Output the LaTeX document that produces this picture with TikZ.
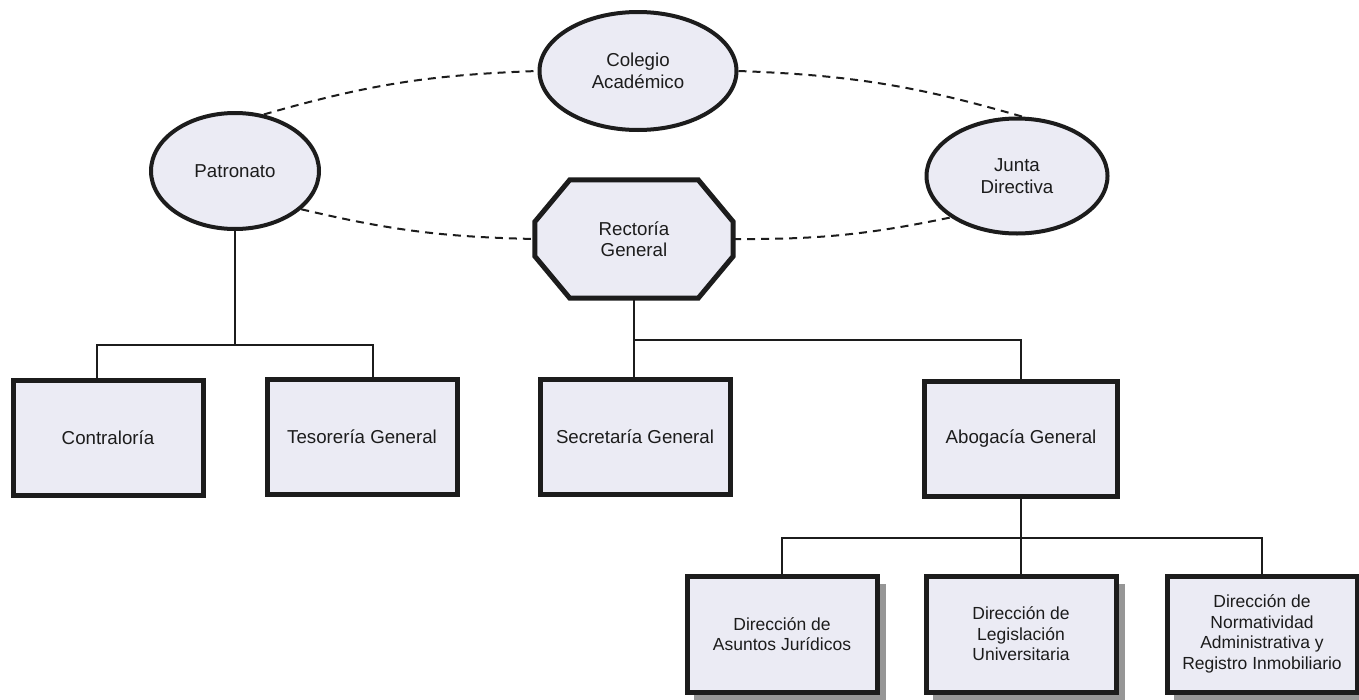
\documentclass[tikz,border=0pt]{standalone}
\usepackage{fontspec}
\setmainfont{Liberation Sans}
\usetikzlibrary{shapes.geometric,calc}
\definecolor{boxfill}{RGB}{235,235,244}
\definecolor{ink}{RGB}{28,28,28}
\definecolor{shad}{RGB}{150,150,150}
\tikzset{
  txt/.style={font=\fontsize{18.7}{21.5}\selectfont, text=ink, align=center, inner sep=0pt},
  small/.style={font=\fontsize{17.5}{20.5}\selectfont},
  oval/.style={txt, ellipse, draw=ink, line width=4pt, fill=boxfill},
  unit/.style={txt, rectangle, draw=ink, line width=5pt, fill=boxfill, minimum width=190pt, minimum height=115pt},
  link/.style={draw=ink, line width=1.5pt},
  rel/.style={draw=ink, line width=2pt, dash pattern=on 8pt off 6pt},
}
\begin{document}
\begin{tikzpicture}[x=1pt,y=-1pt]
\useasboundingbox (0,0) rectangle (1359,699);
\fill[white] (0,0) rectangle (1359,699);

% ovals
\node[oval, minimum width=197pt, minimum height=118pt] (col) at (638,71) {Colegio\\Académico};
\node[oval, minimum width=168pt, minimum height=116pt] (pat) at (235,171) {Patronato};
\node[oval, minimum width=181pt, minimum height=115pt] (jun) at (1017,176) {Junta\\Directiva};

% rectoria octagon
\node[txt, minimum width=198pt, minimum height=118pt] (rec) at (634,239) {};
\filldraw[draw=ink, fill=boxfill, line width=5pt, line join=miter]
  ($(rec.north west)+(35,0)$) -- ($(rec.north east)+(-35,0)$) --
  ($(rec.north east)+(0,42)$) -- ($(rec.south east)+(0,-42)$) --
  ($(rec.south east)+(-35,0)$) -- ($(rec.south west)+(35,0)$) --
  ($(rec.south west)+(0,-42)$) -- ($(rec.north west)+(0,42)$) -- cycle;
\node[txt] at (rec.center) {Rectoría\\General};

% dashed relations
\draw[rel] (pat.63) to[bend left=7] (col.west);
\draw[rel] (col.east) to[bend left=7] (jun.85);
\draw[rel] (pat.-30) to[bend right=6] (rec.west);
\draw[rel] (rec.east) to[bend right=6] (jun.-148);

% top row boxes
\node[unit] (con) at (108,438) {Contraloría};
\node[unit] (tes) at (362,437) {Tesorería General};
\node[unit] (sec) at (635,437) {Secretaría General};
\node[unit, minimum width=193pt] (abo) at (1021,439) {Abogacía General};

% bottom row shadows and boxes
\foreach \p in {(782,634),(1021,634),(1262,634)}{
  \fill[shad] \p ++(-88,-50) rectangle ++(192,117);
}
\node[unit, small, minimum height=116pt] (asu) at (782,634) {Dirección de\\Asuntos Jurídicos};
\node[unit, small, minimum height=116pt] (leg) at (1021,634) {Dirección de\\Legislación\\Universitaria};
\node[unit, small, minimum height=116pt] (nor) at (1262,634) {Dirección de\\Normatividad\\Administrativa y\\Registro Inmobiliario};

% connectors
\coordinate (b1) at (235,345);
\coordinate (b2) at (634,340);
\coordinate (b3) at (1021,538);
\draw[link] (pat.south) -- (b1);
\draw[link] ([xshift=-11pt]con.north) |- (b1) -| ([xshift=11pt]tes.north);
\draw[link] (rec.south) -- (b2 |- sec.north);
\draw[link] (b2) -| (abo.north);
\draw[link] (abo.south) -- (leg.north);
\draw[link] (asu.north) |- (b3) -| (nor.north);
\end{tikzpicture}
\end{document}
